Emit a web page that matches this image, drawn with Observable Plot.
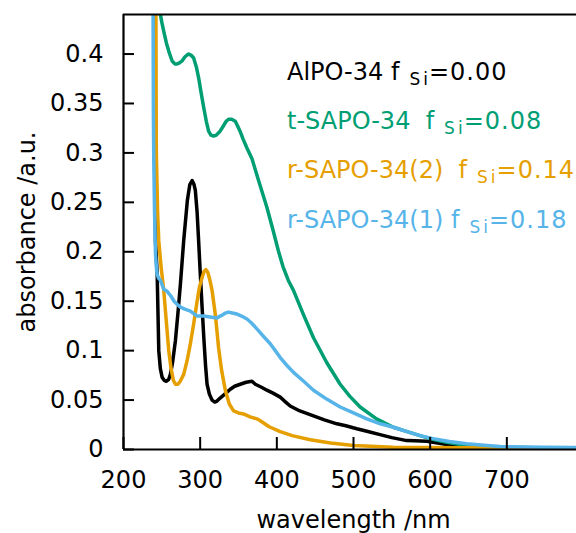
<!DOCTYPE html>
<html><head><meta charset="utf-8">
<script src="https://cdn.jsdelivr.net/npm/d3@7"></script>
<script src="https://cdn.jsdelivr.net/npm/@observablehq/plot@0.6"></script>
<style>
html,body{margin:0;padding:0;background:#fff;overflow:hidden;width:576px;height:533px}
</style>
</head><body><div id="chart"></div>
<script>
// [wavelength nm, absorbance a.u.]
const alpo34 = [[239,0.60],[240.5,0.40],[241.7,0.211],[243.9,0.178],[246,0.100],[248,0.082],[250.4,0.073],[253,0.070],[256,0.069],[259,0.071],[261.2,0.076],[264,0.088],[267.7,0.110],[271,0.138],[274.2,0.167],[278.5,0.211],[283.3,0.252],[286.5,0.268],[289.5,0.272],[292,0.268],[293.7,0.262],[296,0.240],[298,0.211],[300,0.180],[302.5,0.144],[305,0.110],[307,0.085],[309,0.066],[312,0.056],[315.5,0.050],[319,0.048],[322,0.049],[326,0.052],[330.6,0.055],[335,0.058],[339.3,0.061],[345,0.064],[352.3,0.066],[360,0.068],[367.6,0.069],[371.9,0.066],[380,0.063],[387,0.060],[395,0.057],[404.4,0.053],[410,0.049],[417.4,0.044],[430,0.039],[447.8,0.034],[462,0.030],[478.3,0.026],[490,0.024],[504.3,0.021],[520,0.018],[534.6,0.015],[550,0.012],[569.4,0.009],[580,0.0088],[595.4,0.0084],[610,0.0065],[621.5,0.005],[640,0.003],[660,0.002],[678,0.0013],[720,0.001],[800,0.0008]];
const tSapo34 = [[244,0.60],[246,0.50],[248.2,0.44],[250,0.432],[252.5,0.423],[256,0.411],[259,0.403],[263.4,0.393],[267,0.390],[270,0.390],[273,0.391],[276.4,0.393],[280,0.397],[283,0.399],[285,0.400],[288,0.399],[291.5,0.396],[295,0.387],[298,0.376],[301,0.362],[304.6,0.346],[308,0.332],[311,0.322],[314,0.318],[317.6,0.317],[321,0.318],[326,0.322],[330,0.327],[334,0.332],[337,0.334],[341,0.334],[345.8,0.332],[349,0.327],[352,0.322],[356,0.314],[361,0.305],[367.6,0.294],[377,0.270],[387,0.245],[395,0.222],[402,0.201],[408,0.185],[415,0.171],[421.7,0.161],[435,0.136],[447.8,0.113],[465,0.088],[482.6,0.066],[495,0.054],[508.6,0.043],[530,0.031],[552,0.0225],[570,0.018],[586.7,0.014],[605,0.010],[621.5,0.0074],[647.5,0.004],[670,0.003],[691,0.0023],[734,0.0017],[800,0.0012]];
const rSapo34_2 = [[241.5,0.60],[242.3,0.44],[242.8,0.30],[244.5,0.24],[246,0.211],[249,0.185],[252.5,0.161],[256,0.128],[259,0.100],[262,0.082],[265,0.070],[267.7,0.066],[271,0.066],[274,0.069],[278.5,0.076],[283,0.090],[287,0.106],[291.5,0.127],[296,0.150],[299,0.164],[302.5,0.174],[305,0.180],[307.4,0.182],[310,0.179],[312.5,0.172],[315.5,0.161],[320,0.135],[324,0.103],[328,0.080],[332.8,0.060],[338,0.046],[343.6,0.039],[350,0.037],[356.6,0.036],[365,0.033],[374,0.031],[378.4,0.029],[390,0.023],[404.4,0.018],[420,0.014],[443.5,0.0098],[470,0.0065],[500,0.004],[551.6,0.0023],[638.8,0.0017],[800,0.001]];
const rSapo34_1 = [[238.2,0.60],[238.6,0.44],[239,0.34],[239.5,0.292],[240.5,0.24],[241.7,0.198],[243,0.183],[243.9,0.177],[246,0.173],[248.2,0.171],[252.5,0.162],[256.9,0.160],[262,0.155],[266,0.150],[270,0.147],[274.2,0.144],[280,0.142],[287.2,0.140],[296,0.135],[304.6,0.135],[313,0.134],[322,0.133],[326,0.135],[329,0.136],[333,0.138],[336.7,0.139],[342,0.138],[348,0.137],[354,0.135],[361,0.132],[367,0.128],[374,0.122],[382,0.115],[391.4,0.107],[398,0.100],[404.4,0.093],[412,0.086],[421.7,0.078],[435,0.069],[447.8,0.060],[465,0.051],[482.6,0.043],[500,0.037],[517.3,0.031],[535,0.026],[552,0.0225],[570,0.018],[586.7,0.014],[604,0.011],[625,0.008],[647.5,0.0058],[670,0.0042],[691,0.003],[747,0.0023],[800,0.002]];

const seriesData = [alpo34, tSapo34, rSapo34_2, rSapo34_1];
const seriesColors = ["#000000", "#009e73", "#e69f00", "#56b4e9"];
const legendNames = ["AlPO-34 f", "t-SAPO-34\u00a0\u00a0f", "r-SAPO-34(2)\u00a0\u00a0f", "r-SAPO-34(1) f"];
const legendValues = ["=0.00", "=0.08", "=0.14", "=0.18"];

const xTicks = [200, 300, 400, 500, 600, 700];
const xTickLabels = ["200", "300", "400", "500", "600", "700"];
const yTicks = [0, 0.05, 0.1, 0.15, 0.2, 0.25, 0.3, 0.35, 0.4];
const yTickLabels = ["0", "0.05", "0.1", "0.15", "0.2", "0.25", "0.3", "0.35", "0.4"];

const FONT = "DejaVu Sans";

const lineMarks = seriesData.map((s, i) => Plot.line(s, {
  x: d => d[0], y: d => d[1], stroke: seriesColors[i], strokeWidth: 3.5,
  curve: "linear", clip: true, strokeLinejoin: "round", strokeLinecap: "butt"
}));

const chart = Plot.plot({
  width: 576, height: 533,
  marginLeft: 123, marginRight: -7, marginTop: 14, marginBottom: 84,
  style: {fontFamily: FONT, fontSize: "24px", background: "#fff", color: "#000"},
  x: {domain: [200, 800], label: null},
  y: {domain: [0, 0.44], label: null},
  marks: [
    ...lineMarks,
    Plot.ruleX([200], {strokeWidth: 2.2, stroke: "#000"}),
    Plot.ruleY([0, 0.44], {strokeWidth: 2.2, stroke: "#000"}),
    Plot.axisY(yTicks, {anchor: "left", tickSize: 11, dx: 11, strokeWidth: 2, tickFormat: () => "", label: null}),
    Plot.axisY(yTicks, {anchor: "left", tickSize: 0, tickPadding: 20, tickFormat: (d) => yTickLabels[yTicks.indexOf(d)], fontSize: 24, label: null}),
    Plot.axisX(xTicks, {anchor: "bottom", tickSize: 12, dy: -12, strokeWidth: 2, tickFormat: () => "", label: null}),
    Plot.axisX(xTicks, {anchor: "bottom", tickSize: 0, tickPadding: 21, tickFormat: (d) => xTickLabels[xTicks.indexOf(d)], fontSize: 24, label: null}),
    Plot.text(["wavelength /nm"], {text: d => d, frameAnchor: "bottom", dy: 78, fontSize: 24, textAnchor: "middle"}),
    Plot.text(["absorbance /a.u."], {text: d => d, frameAnchor: "left", rotate: -90, dx: -96.5, fontSize: 24, textAnchor: "middle"})
  ]
});
document.getElementById("chart").appendChild(chart);

// legend (inside plot area, top right)
const lg = d3.select(chart).append("g")
  .attr("font-family", FONT).attr("font-size", 24).attr("text-anchor", "start");
legendNames.forEach((name, i) => {
  const t = lg.append("text").attr("x", 287).attr("y", 80 + i * 49.2)
    .attr("fill", seriesColors[i]).attr("text-anchor", "start");
  t.append("tspan").text(name);
  t.append("tspan").attr("font-size", 17).attr("dx", 10).attr("dy", 5).text("S");
  t.append("tspan").attr("font-size", 17).attr("dx", 3).text("i");
  t.append("tspan").attr("dx", 1).attr("dy", -5).attr("letter-spacing", 1).text(legendValues[i]);
});
</script>
</body></html>
